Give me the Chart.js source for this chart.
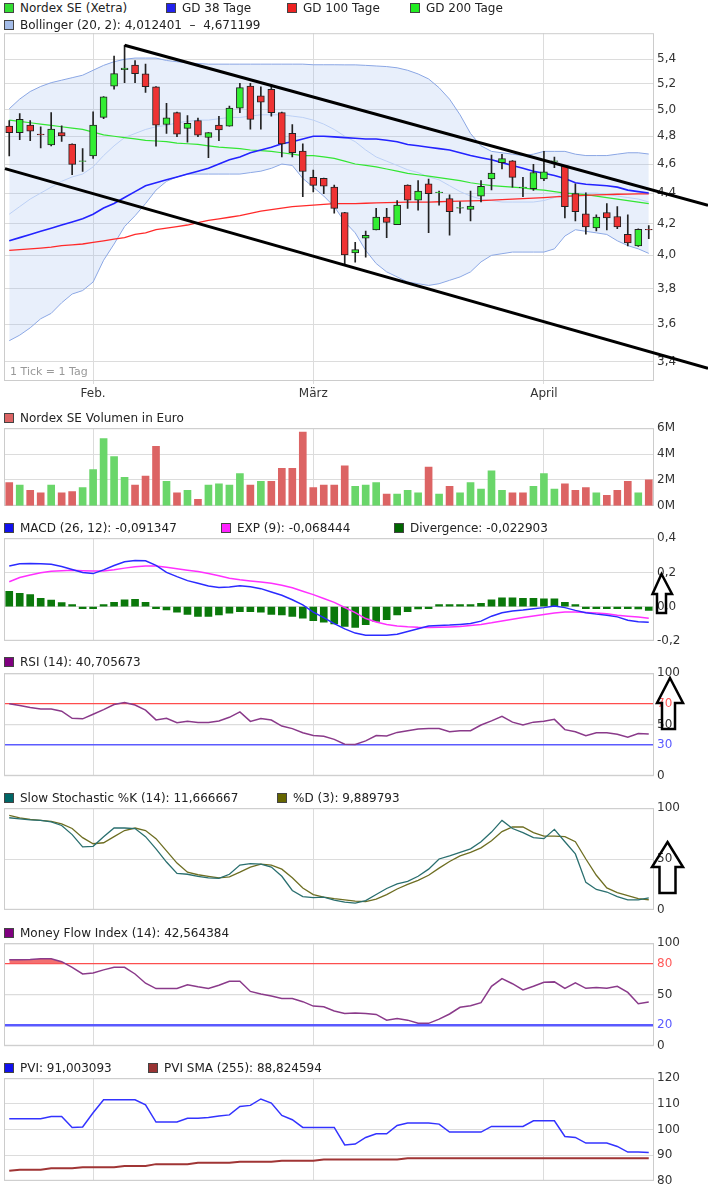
<!DOCTYPE html>
<html lang="de">
<head>
<meta charset="UTF-8">
<title>Nordex SE (Xetra)</title>
<script src="https://cdn.jsdelivr.net/npm/chart.js@4.4.1/dist/chart.umd.min.js"></script>
<style>
  body { margin: 0; background: #fff; font-family: "DejaVu Sans", Verdana, sans-serif; }
  #wrap { position: relative; width: 708px; height: 1193px; overflow: hidden; }
  canvas { position: absolute; left: 0; }
  .leg { position: absolute; font-size: 12px; line-height: 14px; color: #222; white-space: nowrap; padding-left: 16px; }
  .leg b { position: absolute; left: 0; top: 2px; width: 8px; height: 8px; border: 1px solid #444; }
  .note { position: absolute; left: 10px; top: 365px; font-size: 11px; line-height: 13px; color: #999; }
  svg { position: absolute; left: 0; top: 0; }
</style>
</head>
<body>
<div id="wrap">
  <canvas id="cPrice" width="708" height="380" style="top:23px"></canvas>
  <canvas id="cVol" width="708" height="98" style="top:418px"></canvas>
  <canvas id="cMacd" width="708" height="123" style="top:528px"></canvas>
  <canvas id="cRsi" width="708" height="123" style="top:663px"></canvas>
  <canvas id="cSto" width="708" height="122" style="top:798px"></canvas>
  <canvas id="cMfi" width="708" height="123" style="top:933px"></canvas>
  <canvas id="cPvi" width="708" height="123" style="top:1068px"></canvas>

  <div class="leg" style="left:4px;top:1px"><b style="background:#33dd33"></b>Nordex SE (Xetra)</div>
  <div class="leg" style="left:166px;top:1px"><b style="background:#2222ee"></b>GD 38 Tage</div>
  <div class="leg" style="left:287px;top:1px"><b style="background:#ee2222"></b>GD 100 Tage</div>
  <div class="leg" style="left:410px;top:1px"><b style="background:#22ee22"></b>GD 200 Tage</div>
  <div class="leg" style="left:4px;top:18px"><b style="background:#a4bce8"></b>Bollinger (20, 2): 4,012401 &nbsp;–&nbsp; 4,671199</div>
  <div class="note">1 Tick = 1 Tag</div>

  <div class="leg" style="left:4px;top:411px"><b style="background:#dc6464"></b>Nordex SE Volumen in Euro</div>
  <div class="leg" style="left:4px;top:521px"><b style="background:#1111ee"></b>MACD (26, 12): -0,091347</div>
  <div class="leg" style="left:221px;top:521px"><b style="background:#ff22ff"></b>EXP (9): -0,068444</div>
  <div class="leg" style="left:394px;top:521px"><b style="background:#006600"></b>Divergence: -0,022903</div>
  <div class="leg" style="left:4px;top:655px"><b style="background:#800080"></b>RSI (14): 40,705673</div>
  <div class="leg" style="left:4px;top:791px"><b style="background:#006666"></b>Slow Stochastic %K (14): 11,666667</div>
  <div class="leg" style="left:277px;top:791px"><b style="background:#666600"></b>%D (3): 9,889793</div>
  <div class="leg" style="left:4px;top:926px"><b style="background:#800080"></b>Money Flow Index (14): 42,564384</div>
  <div class="leg" style="left:4px;top:1061px"><b style="background:#1111ee"></b>PVI: 91,003093</div>
  <div class="leg" style="left:148px;top:1061px"><b style="background:#993333"></b>PVI SMA (255): 88,824594</div>

  <svg width="708" height="1193">
    <g fill="none" stroke="#000" stroke-width="2.5" stroke-linejoin="miter">
      <polygon points="661.5,574 672,594 666,594 666,613 657,613 657,594 652.5,594"/>
      <polygon points="670,678 683,703 675,703 675,729 662,729 662,703 657,703"/>
      <polygon points="667.5,842 683,867 675.5,867 675.5,893 659.5,893 659.5,867 652,867"/>
    </g>
  </svg>
</div>

<script>
// trading days 20.01.2012 - 18.04.2012
const days = ['20.01.','23.01.','24.01.','25.01.','26.01.','27.01.','30.01.','31.01.',
  '01.02.','02.02.','03.02.','06.02.','07.02.','08.02.','09.02.','10.02.','13.02.','14.02.','15.02.','16.02.','17.02.','20.02.','21.02.','22.02.','23.02.','24.02.','27.02.','28.02.','29.02.',
  '01.03.','02.03.','05.03.','06.03.','07.03.','08.03.','09.03.','12.03.','13.03.','14.03.','15.03.','16.03.','19.03.','20.03.','21.03.','22.03.','23.03.','26.03.','27.03.','28.03.','29.03.','30.03.',
  '02.04.','03.04.','04.04.','05.04.','10.04.','11.04.','12.04.','13.04.','16.04.','17.04.','18.04.'];
const monthNames = { '02': 'Feb.', '03': 'März', '04': 'April' };

const openP = [4.875, 4.826, 4.882, 4.815, 4.736, 4.826, 4.743, 4.618, 4.657, 4.941,
  5.183, 5.315, 5.352, 5.281, 5.178, 4.887, 4.976, 4.858, 4.917, 4.791,
  4.882, 4.875, 5.011, 5.183, 5.106, 5.158, 4.976, 4.821, 4.692, 4.507,
  4.501, 4.440, 4.271, 4.015, 4.106, 4.158, 4.241, 4.193, 4.454, 4.353,
  4.462, 4.403, 4.363, 4.300, 4.292, 4.379, 4.496, 4.610, 4.622, 4.436,
  4.429, 4.496, 4.618, 4.587, 4.396, 4.263, 4.172, 4.271, 4.245, 4.131,
  4.058, 4.162];
const highP = [4.917, 4.969, 4.917, 4.870, 4.976, 4.877, 4.745, 4.710, 4.983, 5.100,
  5.427, 5.517, 5.389, 5.360, 5.180, 5.048, 4.980, 4.954, 4.936, 4.826,
  4.949, 5.026, 5.204, 5.204, 5.178, 5.196, 4.980, 4.887, 4.745, 4.557,
  4.502, 4.454, 4.272, 4.080, 4.152, 4.298, 4.298, 4.349, 4.455, 4.485,
  4.496, 4.413, 4.388, 4.341, 4.413, 4.485, 4.664, 4.668, 4.624, 4.507,
  4.598, 4.690, 4.650, 4.590, 4.462, 4.401, 4.256, 4.330, 4.310, 4.256,
  4.166, 4.187];
const lowP = [4.657, 4.774, 4.767, 4.715, 4.730, 4.762, 4.526, 4.548, 4.640, 4.931,
  5.158, 5.210, 5.210, 5.132, 4.727, 4.821, 4.797, 4.757, 4.797, 4.645,
  4.767, 4.875, 4.976, 4.853, 4.853, 4.949, 4.650, 4.650, 4.375, 4.407,
  4.396, 4.266, 3.950, 3.959, 3.988, 4.158, 4.110, 4.193, 4.298, 4.286,
  4.141, 4.320, 4.125, 4.266, 4.217, 4.341, 4.422, 4.565, 4.440, 4.375,
  4.418, 4.485, 4.575, 4.235, 4.217, 4.131, 4.152, 4.158, 4.166, 4.058,
  4.055, 4.104];
const closeP = [4.826, 4.925, 4.838, 4.810, 4.853, 4.802, 4.598, 4.622, 4.882, 5.098,
  5.283, 5.328, 5.283, 5.178, 4.882, 4.938, 4.815, 4.895, 4.808, 4.826,
  4.846, 5.011, 5.171, 4.925, 5.056, 4.976, 4.743, 4.680, 4.548, 4.452,
  4.447, 4.298, 4.003, 4.035, 4.125, 4.241, 4.207, 4.320, 4.353, 4.413,
  4.396, 4.407, 4.277, 4.304, 4.314, 4.445, 4.536, 4.638, 4.507, 4.440,
  4.541, 4.545, 4.622, 4.310, 4.277, 4.178, 4.241, 4.235, 4.178, 4.076,
  4.162, 4.158];

const gd38 = [4.09, 4.11, 4.13, 4.15, 4.17, 4.19, 4.21, 4.23, 4.26, 4.30,
  4.33, 4.37, 4.41, 4.45, 4.47, 4.49, 4.51, 4.53, 4.55, 4.57,
  4.60, 4.63, 4.65, 4.68, 4.70, 4.72, 4.745, 4.76, 4.78, 4.80,
  4.80, 4.795, 4.79, 4.785, 4.78, 4.78, 4.77, 4.76, 4.74, 4.73,
  4.72, 4.71, 4.70, 4.68, 4.66, 4.645, 4.63, 4.61, 4.59, 4.57,
  4.55, 4.535, 4.52, 4.50, 4.47, 4.46, 4.455, 4.45, 4.44, 4.42,
  4.41, 4.40];
const gd100 = [4.03, 4.035, 4.04, 4.045, 4.05, 4.06, 4.065, 4.07, 4.08, 4.09,
  4.10, 4.11, 4.13, 4.14, 4.16, 4.17, 4.18, 4.19, 4.205, 4.22,
  4.23, 4.24, 4.25, 4.265, 4.28, 4.29, 4.30, 4.31, 4.315, 4.32,
  4.325, 4.33, 4.33, 4.33, 4.332, 4.334, 4.336, 4.338, 4.34, 4.34,
  4.34, 4.342, 4.344, 4.346, 4.348, 4.35, 4.353, 4.356, 4.36, 4.363,
  4.366, 4.37, 4.374, 4.378, 4.382, 4.385, 4.388, 4.39, 4.392, 4.393,
  4.394, 4.395];
const gd200 = [4.92, 4.91, 4.90, 4.89, 4.88, 4.87, 4.86, 4.85, 4.83, 4.81,
  4.80, 4.79, 4.78, 4.77, 4.765, 4.76, 4.75, 4.745, 4.74, 4.73,
  4.72, 4.715, 4.71, 4.70, 4.695, 4.69, 4.68, 4.67, 4.66, 4.66,
  4.65, 4.64, 4.62, 4.60, 4.59, 4.58, 4.565, 4.55, 4.535, 4.525,
  4.515, 4.505, 4.495, 4.485, 4.47, 4.46, 4.45, 4.445, 4.44, 4.435,
  4.425, 4.42, 4.41, 4.40, 4.395, 4.39, 4.38, 4.37, 4.36, 4.35,
  4.34, 4.33];
const bollUpper = [5.006, 5.081, 5.14, 5.18, 5.21, 5.23, 5.25, 5.27, 5.31, 5.35,
  5.38, 5.40, 5.41, 5.41, 5.41, 5.39, 5.38, 5.37, 5.365, 5.36,
  5.36, 5.36, 5.36, 5.36, 5.36, 5.36, 5.36, 5.36, 5.36, 5.355,
  5.355, 5.355, 5.354, 5.354, 5.35, 5.345, 5.34, 5.33, 5.31, 5.28,
  5.24, 5.17, 5.08, 4.96, 4.82, 4.73, 4.69, 4.68, 4.67, 4.66,
  4.67, 4.69, 4.69, 4.69, 4.67, 4.66, 4.66, 4.66, 4.67, 4.68,
  4.68, 4.671];
const bollMid = [4.26, 4.31, 4.36, 4.40, 4.44, 4.48, 4.51, 4.53, 4.58, 4.66,
  4.73, 4.79, 4.82, 4.85, 4.87, 4.88, 4.90, 4.91, 4.92, 4.92,
  4.93, 4.94, 4.94, 4.95, 4.96, 4.96, 4.96, 4.95, 4.94, 4.92,
  4.89, 4.85, 4.80, 4.76, 4.70, 4.65, 4.62, 4.59, 4.56, 4.54,
  4.51, 4.49, 4.45, 4.41, 4.38, 4.36, 4.35, 4.34, 4.34, 4.34,
  4.34, 4.35, 4.37, 4.40, 4.40, 4.40, 4.40, 4.39, 4.38, 4.37,
  4.36, 4.34];
const bollLower = [3.51, 3.54, 3.58, 3.63, 3.66, 3.72, 3.77, 3.79, 3.84, 3.97,
  4.07, 4.18, 4.25, 4.33, 4.42, 4.48, 4.51, 4.53, 4.53, 4.53,
  4.53, 4.53, 4.53, 4.54, 4.55, 4.57, 4.60, 4.59, 4.50, 4.44,
  4.38, 4.31, 4.21, 4.14, 4.03, 3.95, 3.90, 3.87, 3.84, 3.83,
  3.82, 3.83, 3.85, 3.87, 3.90, 3.96, 4.00, 4.01, 4.02, 4.02,
  4.02, 4.02, 4.04, 4.12, 4.16, 4.15, 4.14, 4.13, 4.09, 4.06,
  4.04, 4.012];

// hand drawn trend lines: [day index, price]
const upperTrend = [[11, 5.517], [61, 4.427]];
const lowerTrend = [[0, 4.559], [61, 3.453]];

const volMio = [1.8, 1.6, 1.2, 1.0, 1.6, 1.0, 1.1, 1.4, 2.8, 5.2,
  3.8, 2.2, 1.6, 2.3, 4.6, 1.9, 1.0, 1.2, 0.5, 1.6,
  1.7, 1.6, 2.5, 1.6, 1.9, 1.9, 2.9, 2.9, 5.7, 1.4,
  1.6, 1.6, 3.1, 1.5, 1.6, 1.8, 0.9, 0.9, 1.2, 1.0,
  3.0, 0.9, 1.5, 1.0, 1.8, 1.3, 2.7, 1.2, 1.0, 1.0,
  1.5, 2.5, 1.3, 1.7, 1.2, 1.4, 1.0, 0.8, 1.2, 1.9,
  1.0, 2.0];

const macd = [0.238, 0.250, 0.252, 0.251, 0.248, 0.235, 0.217, 0.199, 0.193, 0.215,
  0.240, 0.262, 0.270, 0.268, 0.241, 0.200, 0.175, 0.152, 0.137, 0.121,
  0.112, 0.115, 0.122, 0.116, 0.105, 0.085, 0.066, 0.040, 0.010, -0.032,
  -0.064, -0.100, -0.130, -0.155, -0.167, -0.168, -0.168, -0.162, -0.146, -0.130,
  -0.114, -0.110, -0.108, -0.104, -0.099, -0.085, -0.056, -0.036, -0.026, -0.020,
  -0.012, -0.006, 0.004, -0.006, -0.022, -0.036, -0.044, -0.050, -0.060, -0.080,
  -0.088, -0.091];
const macdExp = [0.145, 0.170, 0.185, 0.198, 0.207, 0.210, 0.212, 0.210, 0.208, 0.208,
  0.215, 0.225, 0.233, 0.237, 0.237, 0.230, 0.222, 0.213, 0.205, 0.193,
  0.180, 0.166, 0.157, 0.150, 0.144, 0.137, 0.125, 0.110, 0.090, 0.070,
  0.047, 0.025, -0.005, -0.035, -0.070, -0.090, -0.105, -0.113, -0.118, -0.121,
  -0.122, -0.121, -0.119, -0.116, -0.110, -0.104, -0.095, -0.084, -0.074, -0.064,
  -0.055, -0.046, -0.038, -0.032, -0.031, -0.034, -0.038, -0.042, -0.050, -0.056,
  -0.061, -0.068];
const macdDiv = [0.090, 0.077, 0.071, 0.048, 0.038, 0.023, 0.004, -0.012, -0.010, 0.003,
  0.025, 0.039, 0.043, 0.025, -0.005, -0.020, -0.033, -0.045, -0.058, -0.058,
  -0.048, -0.039, -0.029, -0.029, -0.033, -0.045, -0.048, -0.058, -0.068, -0.083,
  -0.091, -0.102, -0.116, -0.122, -0.106, -0.087, -0.077, -0.048, -0.029, -0.014,
  -0.003, 0.012, 0.012, 0.012, 0.012, 0.019, 0.039, 0.052, 0.052, 0.048,
  0.048, 0.045, 0.045, 0.025, 0.002, -0.005, -0.006, -0.006, -0.008, -0.010,
  -0.014, -0.023];

const rsi = [70.3, 68.5, 66.5, 65.0, 65.0, 63.0, 56.0, 55.5, 60.0, 64.5,
  69.5, 71.5, 69.0, 64.0, 54.5, 56.0, 51.8, 53.2, 52.0, 52.0,
  53.5, 57.0, 62.3, 53.0, 55.8, 54.3, 48.5, 46.0, 42.0, 39.2,
  38.5, 35.5, 30.8, 30.6, 34.0, 39.2, 38.8, 42.3, 44.0, 45.6,
  46.1, 46.1, 43.0, 43.9, 43.9, 49.5, 53.5, 58.0, 52.3, 49.5,
  52.3, 53.2, 55.0, 45.0, 43.0, 39.0, 42.0, 41.9, 40.5, 37.5,
  41.3, 40.7];

const stochK = [90.6, 89.5, 88.5, 88.0, 86.5, 83.0, 74.0, 62.0, 62.5, 72.0,
  80.5, 80.5, 80.0, 72.0, 60.0, 47.0, 35.8, 35.0, 33.0, 31.5,
  31.0, 35.0, 44.0, 45.5, 45.0, 42.0, 33.0, 19.0, 13.0, 12.0,
  12.5, 9.5, 7.5, 6.5, 9.0, 15.0, 21.0, 25.5, 28.0, 33.0,
  40.0, 50.0, 53.0, 56.5, 60.0, 67.0, 76.5, 88.0, 80.0, 76.0,
  71.0, 70.0, 79.2, 67.0, 55.0, 27.0, 20.0, 17.5, 13.0, 9.8,
  9.8, 11.7];
const stochD = [93.0, 90.5, 89.0, 88.0, 87.0, 84.5, 80.0, 71.0, 65.0, 66.0,
  72.0, 78.0, 80.5, 78.0, 70.0, 58.0, 46.0, 37.0, 34.5, 33.0,
  31.5, 32.5, 37.0, 42.0, 45.0, 44.0, 40.0, 31.5, 21.5, 15.0,
  12.5, 11.0, 9.8, 8.5, 8.0, 10.5, 15.0, 20.5, 25.0, 29.0,
  34.0, 41.0, 47.5, 53.0, 56.5, 61.0, 68.0, 77.0, 81.5, 81.5,
  76.0, 72.5, 72.5, 72.0, 67.0, 50.0, 34.0, 21.5, 17.0, 14.0,
  11.0, 9.9];

const mfi = [83.9, 83.9, 84.0, 84.8, 84.8, 82.0, 76.5, 70.0, 71.0, 74.0,
  76.5, 76.5, 70.0, 61.0, 55.8, 55.8, 55.8, 59.5, 57.5, 55.8,
  59.0, 62.9, 62.9, 53.0, 50.5, 48.5, 46.1, 46.0, 43.0, 38.7,
  38.1, 34.0, 31.5, 32.0, 31.5, 30.6, 25.0, 26.5, 25.0, 22.0,
  21.9, 26.0, 31.0, 37.5, 39.0, 42.0, 58.0, 65.5, 60.5, 54.5,
  58.0, 62.0, 62.3, 56.0, 61.3, 56.0, 56.8, 56.0, 58.0, 52.0,
  41.0, 42.6];

const pvi = [104.2, 104.2, 104.2, 104.2, 105.1, 105.1, 100.8, 101.0, 106.5, 111.6,
  111.6, 111.6, 111.6, 109.6, 102.9, 102.9, 102.9, 104.4, 104.4, 104.7,
  105.3, 105.7, 109.0, 109.4, 111.9, 110.3, 105.5, 103.8, 100.8, 100.8,
  100.8, 100.8, 94.0, 94.3, 96.9, 98.3, 98.3, 101.6, 102.5, 102.5,
  102.5, 102.1, 99.0, 99.0, 99.0, 99.0, 101.2, 101.2, 101.2, 101.2,
  103.4, 103.4, 103.4, 97.3, 96.9, 94.7, 94.7, 94.7, 93.4, 91.2,
  91.2, 91.0];
const pviSma = [83.9, 84.3, 84.3, 84.3, 84.9, 84.9, 84.9, 85.3, 85.3, 85.3,
  85.3, 85.8, 85.8, 85.8, 86.5, 86.5, 86.5, 86.5, 87.0, 87.0,
  87.0, 87.0, 87.4, 87.4, 87.4, 87.4, 87.8, 87.8, 87.8, 87.8,
  88.3, 88.3, 88.3, 88.3, 88.3, 88.3, 88.3, 88.3, 88.8, 88.8,
  88.8, 88.8, 88.8, 88.8, 88.8, 88.8, 88.8, 88.8, 88.8, 88.8,
  88.8, 88.8, 88.8, 88.8, 88.8, 88.8, 88.8, 88.8, 88.8, 88.8,
  88.8, 88.8];

const priceMin = 3.33, priceMax = 5.62;
const priceTicks = [3.4, 3.6, 3.8, 4.0, 4.2, 4.4, 4.6, 4.8, 5.0, 5.2, 5.4];
const volTicks = [0, 2, 4, 6];
const macdTicks = [-0.2, 0, 0.2, 0.4];
const rsiTicks = [0, 30, 50, 70, 100];
const stochTicks = [0, 50, 100];
const mfiTicks = [0, 20, 50, 80, 100];
const pviTicks = [80, 90, 100, 110, 120];

Chart.defaults.font.family = '"DejaVu Sans", Verdana, sans-serif';
Chart.defaults.font.size = 12;
Chart.defaults.color = '#333';

const GRID = '#dcdcdc';
const monthLabel = i => (i > 0 && days[i].slice(3, 5) !== days[i - 1].slice(3, 5)) ? monthNames[days[i].slice(3, 5)] : '';
const comma = (v, d) => (Math.abs(v) < 1e-9 ? 0 : v).toFixed(d).replace('.', ',');

// frame around each plot area
const framePlugin = {
  id: 'frame',
  beforeDatasetsDraw(chart) {
    const a = chart.chartArea, ctx = chart.ctx;
    ctx.save();
    ctx.strokeStyle = '#cccccc';
    ctx.lineWidth = 1;
    ctx.strokeRect(a.left + 0.5, a.top + 0.5, a.right - a.left - 1, a.bottom - a.top - 1);
    ctx.restore();
  }
};

// black trend lines, extended to the right edge
const trendPlugin = {
  id: 'trend',
  afterDraw(chart) {
    const xs = chart.scales.x, ys = chart.scales.y, ctx = chart.ctx;
    ctx.save();
    ctx.strokeStyle = '#000';
    ctx.lineWidth = 3;
    [[upperTrend, false], [lowerTrend, true]].forEach(([pts, fromLeft]) => {
      let x1 = xs.getPixelForValue(pts[0][0]), y1 = ys.getPixelForValue(pts[0][1]);
      const x2 = xs.getPixelForValue(pts[1][0]), y2 = ys.getPixelForValue(pts[1][1]);
      const k = (y2 - y1) / (x2 - x1);
      if (fromLeft) {
        const xl = chart.chartArea.left + 1;
        y1 += (xl - x1) * k;
        x1 = xl;
      }
      const xe = chart.width;
      ctx.beginPath();
      ctx.moveTo(x1, y1);
      ctx.lineTo(xe, y1 + (xe - x1) * k);
      ctx.stroke();
    });
    ctx.restore();
  }
};

function xAxis(showLabels) {
  return {
    offset: true,
    grid: {
      offset: false,
      color: c => monthLabel(c.index) ? GRID : 'rgba(0,0,0,0)',
      drawTicks: showLabels,
      tickLength: 3
    },
    border: { display: false },
    ticks: {
      display: showLabels,
      autoSkip: false,
      maxRotation: 0,
      padding: 3,
      color: '#333',
      callback: (v, i) => monthLabel(i)
    },
    afterFit: s => { s.height = showLabels ? 22 : 0; }
  };
}

function yAxis(tickVals, fmt, extra) {
  return Object.assign({
    position: 'right',
    min: tickVals[0],
    max: tickVals[tickVals.length - 1],
    afterBuildTicks: s => { s.ticks = tickVals.map(v => ({ value: v })); },
    afterFit: s => { s.width = 54; },
    border: { display: false },
    grid: { color: GRID, drawTicks: false },
    ticks: { padding: 3, color: '#333', callback: fmt }
  }, extra || {});
}

function opts(scales, padBottom) {
  return {
    responsive: false,
    animation: false,
    events: [],
    layout: { padding: { left: 4, right: 0, top: 10, bottom: padBottom } },
    plugins: { legend: { display: false }, tooltip: { enabled: false } },
    scales
  };
}

const line = (data, color, width, order, extra) => Object.assign({
  type: 'line', data, borderColor: color, borderWidth: width,
  pointRadius: 0, tension: 0, fill: false, order
}, extra || {});

const candleUp = closeP.map((c, i) => c >= openP[i]);
const dayUp = closeP.map((c, i) => i > 0 && c >= closeP[i - 1]);

// price panel
new Chart(document.getElementById('cPrice'), {
  type: 'bar',
  data: {
    labels: days,
    datasets: [
      { data: openP.map((o, i) => [o, closeP[i]]), backgroundColor: candleUp.map(u => u ? '#33ee33' : '#ee3333'),
        borderColor: '#222', borderWidth: 1, borderSkipped: false, barThickness: 7, grouped: false, order: 0 },
      { data: lowP.map((l, i) => [l, highP[i]]), backgroundColor: '#222', barThickness: 1, grouped: false, order: 1 },
      line(gd38, '#2323ff', 1.6, 2),
      line(gd100, '#ff2a2a', 1.3, 3),
      line(gd200, '#33e633', 1.2, 4),
      line(bollMid, '#bcd0f5', 1, 5),
      line(bollUpper, '#8aa6e4', 1, 6, { fill: '+1', backgroundColor: 'rgba(160,190,240,0.24)' }),
      line(bollLower, '#8aa6e4', 1, 7)
    ]
  },
  options: opts({
    x: xAxis(true),
    y: yAxis(priceTicks, v => comma(v, 1), { type: 'logarithmic', min: priceMin, max: priceMax })
  }, 0),
  plugins: [framePlugin, trendPlugin]
});

// volume
new Chart(document.getElementById('cVol'), {
  type: 'bar',
  data: {
    labels: days,
    datasets: [{ data: volMio, backgroundColor: dayUp.map(u => u ? '#6ad66a' : '#dc6464'), barThickness: 7 }]
  },
  options: opts({ x: xAxis(false), y: yAxis(volTicks, v => v + 'M') }, 10),
  plugins: [framePlugin]
});

// MACD
new Chart(document.getElementById('cMacd'), {
  type: 'bar',
  data: {
    labels: days,
    datasets: [
      line(macd, '#2b2bff', 1.5, 0),
      line(macdExp, '#ff30ff', 1.5, 1),
      { data: macdDiv, backgroundColor: '#0a780a', barThickness: 7, minBarLength: 2, order: 2 }
    ]
  },
  options: opts({ x: xAxis(false), y: yAxis(macdTicks, v => comma(v, 1)) }, 10),
  plugins: [framePlugin]
});

// RSI
const rsiRef = { 70: '#ff4d4d', 30: '#5c5cff' };
const rsiLbl = { 70: '#ff5a5a', 30: '#5a5aff' };
new Chart(document.getElementById('cRsi'), {
  type: 'line',
  data: { labels: days, datasets: [line(rsi, '#8a3a8a', 1.5, 0)] },
  options: opts({
    x: xAxis(false),
    y: yAxis(rsiTicks, v => String(v), {
      grid: { drawTicks: false, color: c => rsiRef[c.tick.value] || GRID, lineWidth: c => c.tick.value === 30 ? 1.5 : 1.2 },
      ticks: { padding: 3, callback: v => String(v), color: c => rsiLbl[c.tick.value] || '#333' }
    })
  }, 10),
  plugins: [framePlugin]
});

// Slow Stochastic
new Chart(document.getElementById('cSto'), {
  type: 'line',
  data: {
    labels: days,
    datasets: [line(stochK, '#2a6f6f', 1.3, 0), line(stochD, '#6e6e22', 1.3, 1)]
  },
  options: opts({ x: xAxis(false), y: yAxis(stochTicks, v => String(v)) }, 10),
  plugins: [framePlugin]
});

// Money Flow Index
const mfiRef = { 80: '#ff4d4d', 20: '#5a5aff' };
const mfiLbl = { 80: '#ff5a5a', 20: '#5a5aff' };
new Chart(document.getElementById('cMfi'), {
  type: 'line',
  data: {
    labels: days,
    datasets: [line(mfi, '#8a3a8a', 1.5, 0, {
      fill: { target: { value: 80 }, above: 'rgba(242,96,96,0.9)', below: 'rgba(0,0,0,0)' }
    })]
  },
  options: opts({
    x: xAxis(false),
    y: yAxis(mfiTicks, v => String(v), {
      grid: { drawTicks: false, color: c => mfiRef[c.tick.value] || GRID, lineWidth: c => c.tick.value === 20 ? 2.5 : 1.2 },
      ticks: { padding: 3, callback: v => String(v), color: c => mfiLbl[c.tick.value] || '#333' }
    })
  }, 10),
  plugins: [framePlugin]
});

// PVI
new Chart(document.getElementById('cPvi'), {
  type: 'line',
  data: {
    labels: days,
    datasets: [line(pvi, '#3333ff', 1.5, 0), line(pviSma, '#a03535', 2, 1)]
  },
  options: opts({ x: xAxis(false), y: yAxis(pviTicks, v => String(v)) }, 10),
  plugins: [framePlugin]
});
</script>
</body>
</html>
